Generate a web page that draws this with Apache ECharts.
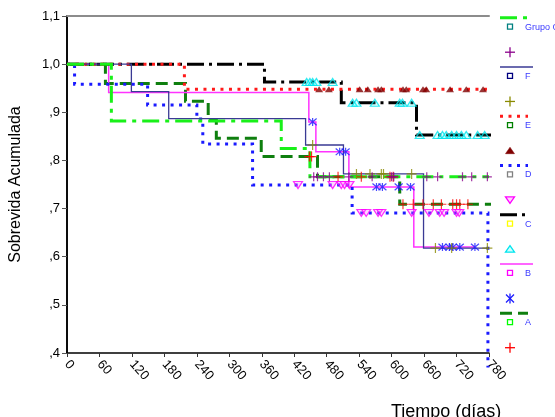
<!DOCTYPE html>
<html>
<head>
<meta charset="utf-8">
<script src="https://cdn.jsdelivr.net/npm/echarts@6/dist/echarts.min.js"></script>
<style>
  html, body { margin: 0; padding: 0; background: #ffffff; }
  #chart { width: 555px; height: 417px; }
</style>
</head>
<body>
<div id="chart"></div>
<script>
// Axis ranges (days, cumulative survival)
const timeMin = 0, timeMax = 780, timeStep = 60;
const survMin = 0.4, survMax = 1.1, survStep = 0.1;

// Kaplan-Meier steps per group: time of each drop and survival from then on
const timeA = [0, 71, 219, 261, 276, 359, 463, 615, 813];
const survA = [1.0, 0.960, 0.923, 0.884, 0.846, 0.808, 0.766, 0.709, 0.709];
const censA = [448, 452, 501, 544, 597, 603, 621, 640, 658, 677, 692, 713, 720, 726, 741];

const timeB = [0, 77, 447, 460, 521, 641, 754];
const survB = [1.0, 0.941, 0.880, 0.818, 0.745, 0.620, 0.620];
const censB = [454, 504, 515, 572, 583, 613, 635, 694, 707, 713, 726, 754];

const timeC = [0, 365, 507, 646, 797];
const survC = [1.0, 0.963, 0.920, 0.853, 0.853];
const censC = [443, 449, 454, 461, 491, 528, 535, 569, 615, 620, 637, 652, 685, 694, 701, 711, 720, 729, 738, 759, 772];

const timeD = [0, 14, 149, 240, 251, 343, 527, 778];
const survD = [1.0, 0.958, 0.915, 0.886, 0.834, 0.749, 0.691, 0.370];
const censD = [427, 491, 507, 513, 522, 544, 553, 575, 581, 637, 669, 689, 697, 720, 725];

const timeE = [0, 217, 786];
const survE = [1.0, 0.948, 0.948];
const censE = [466, 484, 541, 556, 575, 581, 621, 627, 658, 664, 708, 738, 769];

const timeF = [0, 119, 188, 441, 511, 659, 780];
const survF = [1.0, 0.943, 0.887, 0.832, 0.772, 0.618, 0.618];
const censF = [454, 535, 560, 581, 585, 637, 681, 711, 777];

const timeG = [0, 82, 396, 449, 780];
const survG = [1.0, 0.882, 0.825, 0.766, 0.766];
const censG = [456, 463, 474, 485, 521, 564, 600, 604, 665, 685, 731, 748, 777];

// Symbols for censored cases
const SYM = {
  plus: 'path://M0,5L10,5M5,0L5,10',
  star: 'path://M0,0L10,10M10,0L0,10M5,-1L5,11',
  triUp: 'path://M5,0L10,8L0,8Z',
  triDown: 'path://M0,0L10,0L5,8Z'
};

// Drawing styles per group (legend order, top to bottom)
const groups = [
  { name: 'Grupo G', t: timeG, s: survG, c: censG, line: '#19f019', width: 3, dash: [17, 6, 4, 6], box: '#008080',
    cens: { sym: 'plus', color: '#8b008b', fill: 'rgba(0,0,0,0)', size: 9 } },
  { name: 'F', t: timeF, s: survF, c: censF, line: '#3a3a94', width: 1.3, dash: 'solid', box: '#000080',
    cens: { sym: 'plus', color: '#8a8a00', fill: 'rgba(0,0,0,0)', size: 10 } },
  { name: 'E', t: timeE, s: survE, c: censE, line: '#ff1a1a', width: 3, dash: [3, 5.5], box: '#008000',
    cens: { sym: 'triUp', color: '#800000', fill: '#800000', size: [8, 6] } },
  { name: 'D', t: timeD, s: survD, c: censD, line: '#1a1aff', width: 3, dash: [3, 5.5], box: '#808080',
    cens: { sym: 'triDown', color: '#ff00ff', fill: 'rgba(255,120,255,0.35)', size: [9, 7] } },
  { name: 'C', t: timeC, s: survC, c: censC, line: '#000000', width: 3, dash: [17, 5, 3, 5], box: '#ffff00',
    cens: { sym: 'triUp', color: '#00e5ee', fill: 'rgba(0,255,255,0.2)', size: [9, 7] } },
  { name: 'B', t: timeB, s: survB, c: censB, line: '#ff33ff', width: 1.5, dash: 'solid', box: '#ff00ff',
    cens: { sym: 'star', color: '#1a1aff', fill: 'rgba(0,0,0,0)', size: 8 } },
  { name: 'A', t: timeA, s: survA, c: censA, line: '#0f7f0f', width: 3, dash: [12, 6], box: '#00ff00',
    cens: { sym: 'plus', color: '#ff0000', fill: 'rgba(0,0,0,0)', size: 10 } }
];

// Survival value of a step curve at time t
function survAt(times, surv, t) {
  let v = surv[0];
  for (let i = 0; i < times.length; i++) if (times[i] <= t) v = surv[i];
  return v;
}

const FONT = 'Liberation Sans, Arial, sans-serif';

const series = [];
groups.slice().reverse().forEach(g => {
  series.push({
    type: 'line', name: g.name, step: 'end', symbol: 'none', clip: false,
    animation: false, silent: true,
    data: g.t.map((t, i) => [t, g.s[i]]),
    lineStyle: { color: g.line, width: g.width, type: g.dash, cap: 'butt', join: 'miter' }
  });
});
groups.slice().reverse().forEach(g => {
  series.push({
    type: 'scatter', name: g.name + ' censurado', clip: false, animation: false, silent: true,
    symbol: SYM[g.cens.sym], symbolSize: g.cens.size, symbolKeepAspect: false,
    data: g.c.map(t => [t, survAt(g.t, g.s, t)]),
    itemStyle: { color: g.cens.fill, borderColor: g.cens.color, borderWidth: g.cens.sym === 'triUp' && g.cens.fill === '#800000' ? 0 : 1.2 },
    z: 3
  });
});

// Legend column drawn with graphic elements
const legendX = 500, legendTop = 17.7, legendGap = 49.25, markX = 510;
const graphics = [];
groups.forEach((g, i) => {
  const y0 = legendTop + legendGap * i;
  const solid = g.dash === 'solid';
  graphics.push({
    type: 'line', silent: true,
    shape: { x1: legendX, y1: y0, x2: solid ? 533 : 528, y2: y0 },
    style: { stroke: g.line, lineWidth: solid ? 1.6 : 3, lineDash: solid ? null : g.dash, lineCap: 'butt' }
  });
  graphics.push({
    type: 'rect', silent: true,
    shape: { x: markX - 2.5, y: y0 + 6.5, width: 5, height: 5 },
    style: { fill: 'none', stroke: g.box, lineWidth: 1.3 }
  });
  graphics.push({
    type: 'text', silent: true,
    style: { text: g.name, x: 525, y: y0 + 9.5, fill: '#3a3aff', font: '9px ' + FONT, verticalAlign: 'middle', align: 'left' }
  });
  const cy = y0 + 34.5, c = g.cens.color;
  if (g.cens.sym === 'plus') {
    graphics.push({ type: 'line', silent: true, shape: { x1: markX - 5, y1: cy, x2: markX + 5, y2: cy }, style: { stroke: c, lineWidth: 1.3 } });
    graphics.push({ type: 'line', silent: true, shape: { x1: markX, y1: cy - 5, x2: markX, y2: cy + 5 }, style: { stroke: c, lineWidth: 1.3 } });
  } else if (g.cens.sym === 'star') {
    graphics.push({ type: 'line', silent: true, shape: { x1: markX - 4, y1: cy - 4, x2: markX + 4, y2: cy + 4 }, style: { stroke: c, lineWidth: 1.3 } });
    graphics.push({ type: 'line', silent: true, shape: { x1: markX + 4, y1: cy - 4, x2: markX - 4, y2: cy + 4 }, style: { stroke: c, lineWidth: 1.3 } });
    graphics.push({ type: 'line', silent: true, shape: { x1: markX, y1: cy - 5, x2: markX, y2: cy + 5 }, style: { stroke: c, lineWidth: 1.3 } });
  } else if (g.cens.sym === 'triUp') {
    const filled = g.cens.fill === '#800000';
    graphics.push({ type: 'polygon', silent: true, shape: { points: [[markX, cy - 3.5], [markX + 4.5, cy + 3], [markX - 4.5, cy + 3]] },
      style: { fill: filled ? c : g.cens.fill, stroke: c, lineWidth: filled ? 0.5 : 1.3 } });
  } else {
    graphics.push({ type: 'polygon', silent: true, shape: { points: [[markX - 4.5, cy - 3], [markX + 4.5, cy - 3], [markX, cy + 3.5]] },
      style: { fill: g.cens.fill, stroke: c, lineWidth: 1.3 } });
  }
});

const chart = echarts.init(document.getElementById('chart'), null, { renderer: 'canvas' });
chart.setOption({
  animation: false,
  backgroundColor: '#ffffff',
  title: {
    text: 'Tiempo (días)', left: 386, top: 398,
    textStyle: { fontFamily: FONT, fontSize: 18, fontWeight: 'normal', color: '#000' }
  },
  grid: { left: 67, right: 66, top: 16, bottom: 64, containLabel: false },
  xAxis: [
    {
      type: 'value', min: timeMin, max: timeMax, interval: timeStep, position: 'bottom',
      axisLine: { show: true, onZero: false, lineStyle: { color: '#000', width: 1.5 } },
      axisTick: { show: true, inside: false, length: 4, lineStyle: { color: '#333', width: 1 } },
      axisLabel: { rotate: -48, margin: 9, fontFamily: FONT, fontSize: 13, color: '#000', showMaxLabel: true, showMinLabel: true },
      splitLine: { show: false }
    },
    {
      type: 'value', min: timeMin, max: timeMax, position: 'top',
      axisLine: { show: true, lineStyle: { color: '#8c8c8c', width: 2 } },
      axisTick: { show: false }, axisLabel: { show: false }, splitLine: { show: false }
    }
  ],
  yAxis: [
    {
      type: 'value', min: survMin, max: survMax, interval: survStep, position: 'left',
      name: 'Sobrevida Acumulada', nameLocation: 'middle', nameGap: 43,
      nameTextStyle: { fontFamily: FONT, fontSize: 16, color: '#000' },
      axisLine: { show: true, onZero: false, lineStyle: { color: '#000', width: 2 } },
      axisTick: { show: true, inside: false, length: 5, lineStyle: { color: '#555', width: 1 } },
      axisLabel: {
        margin: 7, fontFamily: FONT, fontSize: 13, color: '#000',
        formatter: v => { const s = v.toFixed(1).replace('.', ','); return s.charAt(0) === '0' ? s.slice(1) : s; }
      },
      splitLine: { show: false }
    },
    {
      type: 'value', min: survMin, max: survMax, position: 'right',
      axisLine: { show: true, lineStyle: { color: '#111', width: 1.5 } },
      axisTick: { show: false }, axisLabel: { show: false }, splitLine: { show: false }
    }
  ],
  series: series,
  graphic: graphics
});
</script>
</body>
</html>
